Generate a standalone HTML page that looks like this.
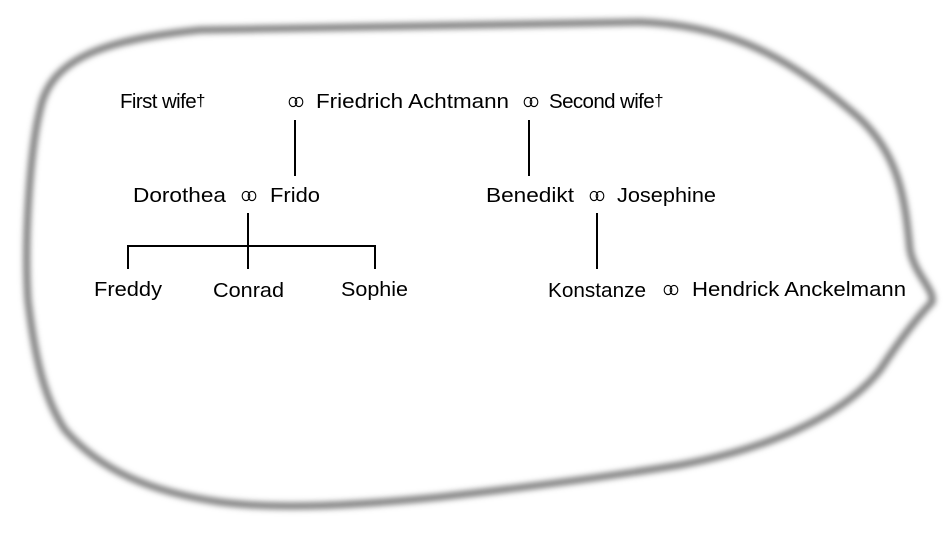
<!DOCTYPE html>
<html><head><meta charset="utf-8"><style>
html,body{margin:0;padding:0;background:#fff;width:948px;height:534px;overflow:hidden}
svg{display:block}
text{font-family:"Liberation Sans",sans-serif;font-size:20.5px;fill:#000}
</style></head><body>
<svg width="948" height="534" viewBox="0 0 948 534">
<defs><filter id="b" x="-10%" y="-10%" width="120%" height="120%"><feGaussianBlur stdDeviation="3"/></filter></defs>
<path filter="url(#b)" fill="none" stroke="#808080" stroke-width="7" d="M 40,110 C 50,60 100,40 200,30 L 640,22 C 720,25 780,50 850,110 C 900,150 905,200 910,250 C 915,275 935,290 932,302 C 915,320 900,340 880,370 C 840,420 760,450 680,465 C 600,478 520,488 440,497 C 360,505 280,510 220,502 C 150,492 100,470 65,430 C 45,400 35,360 28,300 C 24,240 30,150 40,110 Z"/>
<g stroke="#000" stroke-width="2" fill="none">
<line x1="295" y1="120" x2="295" y2="176"/>
<line x1="529" y1="120" x2="529" y2="176"/>
<line x1="248" y1="213" x2="248" y2="269"/>
<line x1="127" y1="246" x2="376" y2="246"/>
<line x1="128" y1="246" x2="128" y2="269"/>
<line x1="375" y1="246" x2="375" y2="269"/>
<line x1="597" y1="213" x2="597" y2="269"/>
</g>
<g stroke="#000" stroke-width="1.1" fill="none">
<ellipse cx="293" cy="102" rx="3.8" ry="4.6"/><ellipse cx="299" cy="102" rx="3.8" ry="4.6"/>
<ellipse cx="528" cy="102" rx="3.8" ry="4.6"/><ellipse cx="534" cy="102" rx="3.8" ry="4.6"/>
<ellipse cx="246" cy="196" rx="3.8" ry="4.6"/><ellipse cx="252" cy="196" rx="3.8" ry="4.6"/>
<ellipse cx="594" cy="196" rx="3.8" ry="4.6"/><ellipse cx="600" cy="196" rx="3.8" ry="4.6"/>
<ellipse cx="668" cy="290" rx="3.8" ry="4.6"/><ellipse cx="674" cy="290" rx="3.8" ry="4.6"/>
</g>
<text x="120" y="108" style="letter-spacing:-0.6px">First wife<tspan style="font-size:17px" dy="-2">†</tspan></text>
<text x="316" y="108" textLength="193" lengthAdjust="spacingAndGlyphs">Friedrich Achtmann</text>
<text x="549" y="108" style="letter-spacing:-0.6px">Second wife<tspan style="font-size:17px" dy="-2">†</tspan></text>
<text x="133" y="202" textLength="93" lengthAdjust="spacingAndGlyphs">Dorothea</text>
<text x="270" y="202" textLength="50" lengthAdjust="spacingAndGlyphs">Frido</text>
<text x="486" y="202" textLength="88" lengthAdjust="spacingAndGlyphs">Benedikt</text>
<text x="617" y="202" textLength="99" lengthAdjust="spacingAndGlyphs">Josephine</text>
<text x="94" y="296" textLength="68" lengthAdjust="spacingAndGlyphs">Freddy</text>
<text x="213" y="297" textLength="71" lengthAdjust="spacingAndGlyphs">Conrad</text>
<text x="341" y="296" textLength="67" lengthAdjust="spacingAndGlyphs">Sophie</text>
<text x="548" y="297" textLength="98" lengthAdjust="spacingAndGlyphs">Konstanze</text>
<text x="692" y="296" textLength="214" lengthAdjust="spacingAndGlyphs">Hendrick Anckelmann</text>
</svg>
</body></html>
